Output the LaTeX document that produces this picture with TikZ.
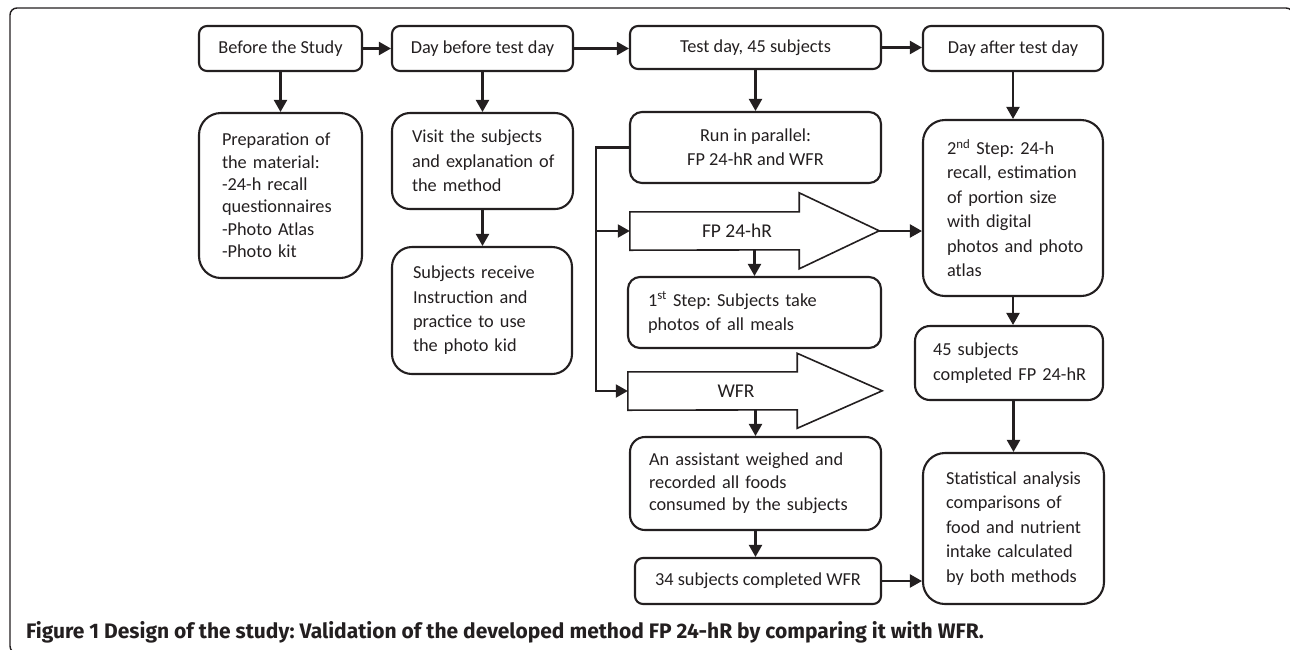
\documentclass[tikz,border=0pt]{standalone}
\usepackage{fontspec}
\setmainfont{Carlito}
\newfontfamily\capfont{Fira Sans}
\usetikzlibrary{arrows.meta,calc}
\definecolor{ink}{RGB}{35,31,32}
\frenchspacing
\begin{document}
\begin{tikzpicture}[x=1pt,y=-1pt,
  box/.style={draw=ink, line width=2.1pt, rounded corners=#1, inner sep=0pt, text=ink,
              font=\fontsize{18.3}{24.4}\selectfont, align=center},
  box/.default=8pt,
  tbox/.style={box=#1, align=left},
  arr/.style={draw=ink, line width=2.1pt, -{Triangle[length=12pt,width=13pt]}},
  bigarrow/.style={draw=ink, line width=1.6pt, fill=white},
  body/.style={minimum width=169pt, minimum height=38pt, inner sep=0pt},
  albl/.style={text=ink, font=\fontsize{19.5}{22}\selectfont, inner sep=0pt},
  frame/.style={draw=ink, line width=1.4pt, rounded corners=7pt}
]
\useasboundingbox (0,0) rectangle (1290,649);
\draw[frame] (10,8) rectangle (1293,653);

% column 1
\node[box, minimum width=163pt, minimum height=45pt] (before) at (280.5,48.5) {Before the Study};
\node[tbox=22pt, text width=117pt, inner xsep=23pt, minimum height=165pt,
      font=\fontsize{18.3}{22.4}\selectfont] (prep) at (280.5,195.5)
  {Preparation of\\the material:\\-24-h recall\\\mbox{questionnaires}\\-Photo Atlas\\-Photo kit};

% column 2
\node[box, minimum width=181pt, minimum height=45pt] (daybefore) at (482.5,48.5) {Day before test day};
\node[tbox=18pt, text width=141pt, inner xsep=20pt, minimum height=96pt] (visit) at (482.5,161)
  {Visit the subjects\\\mbox{and explanation of}\\the method};
\node[tbox=20pt, text width=138pt, inner xsep=21pt, minimum height=127pt] (receive) at (482,310.5)
  {Subjects receive\\Instruction and\\practice to use\\the photo kid};

% column 3
\node[box, minimum width=251pt, minimum height=43pt] (testday) at (755.5,47.5) {Test day, 45 subjects};
\node[box=12pt, minimum width=251pt, minimum height=71pt] (run) at (755.5,147.5)
  {Run in parallel:\\FP 24-hR and WFR};

\node[body] (fp) at (714.5,231) {};
\draw[bigarrow] (fp.north west) -- (fp.north east) -- ++(0,-19) -- ++(80,38) -- ++(-80,38)
  -- ++(0,-19) -- (fp.south west) -- cycle;
\coordinate (fptip) at ($(fp.east)+(80,0)$);
\node[albl] (fptext) at (737,231) {FP 24-hR};

\node[tbox=12pt, text width=213pt, inner xsep=20pt, minimum height=71pt] (step1) at (754.5,312.5)
  {1\textsuperscript{st} Step: Subjects take\\photos of all meals};

\node[body] (wfr) at (712.5,391) {};
\draw[bigarrow] (wfr.north west) -- (wfr.north east) -- ++(0,-18.5) -- ++(85,37.5) -- ++(-85,37.5)
  -- ++(0,-18.5) -- (wfr.south west) -- cycle;
\node[albl] (wfrtext) at (736,391) {WFR};

\node[tbox=15pt, text width=213pt, inner xsep=19pt, minimum height=93pt,
      font=\fontsize{18.3}{22.5}\selectfont] (assist) at (755.5,483.5)
  {An assistant weighed and\\recorded all foods\\consumed by the subjects};
\node[box, minimum width=246pt, minimum height=46pt] (w34) at (758,581) {34 subjects completed WFR};

% column 4
\node[box, minimum width=180pt, minimum height=45pt] (dayafter) at (1013,48.5) {Day after test day};
\node[tbox=22pt, text width=132pt, inner xsep=24pt, minimum height=176pt] (step2) at (1013,208)
  {2\textsuperscript{nd} Step: 24-h\\recall, estimation\\of portion size\\with digital\\\mbox{photos and photo}\\atlas};
\node[tbox=15pt, text width=152pt, inner xsep=18pt, minimum height=74pt] (c45) at (1009,363)
  {45 subjects\\\mbox{completed FP 24-hR}};
\node[tbox=22pt, text width=135pt, inner xsep=23pt, minimum height=151pt] (stat) at (1013.5,528.5)
  {\mbox{Statistical analysis}\\comparisons of\\food and nutrient\\intake calculated\\by both methods};

% connectors
\draw[arr] (before) -- (daybefore);
\draw[arr] (daybefore.east) -- (daybefore.east -| testday.west);
\draw[arr] (testday.east) -- (testday.east -| dayafter.west);
\draw[arr] (before) -- (prep);
\draw[arr] (daybefore) -- (visit);
\draw[arr] (visit.south) -- (visit.south |- receive.north);
\draw[arr] (testday) -- (run);
\draw[arr] (run.west) -- ++(-33,0) coordinate (bus) |- (wfr.west);
\draw[arr] (bus |- fp.west) -- (fp.west);
\draw[arr] (fp.south -| step1.north) -- (step1.north);
\draw[arr] (fptip) -- (fptip -| step2.west);
\draw[arr] (wfr.south -| assist.north) -- (assist.north);
\draw[arr] (assist.south) -- (assist.south |- w34.north);
\draw[arr] (w34.east) -- (w34.east -| stat.west);
\draw[arr] (dayafter) -- (step2);
\draw[arr] (step2.south) -- (step2.south |- c45.north);
\draw[arr] (c45.south -| stat.north) -- (stat.north);

% caption
\node[anchor=west, inner sep=0pt, text=ink, font=\capfont\bfseries\fontsize{21}{24}\selectfont] (caption) at (26,632)
  {Figure 1 Design of the study: Validation of the developed method FP 24-hR by comparing it with WFR.};
\end{tikzpicture}
\end{document}
